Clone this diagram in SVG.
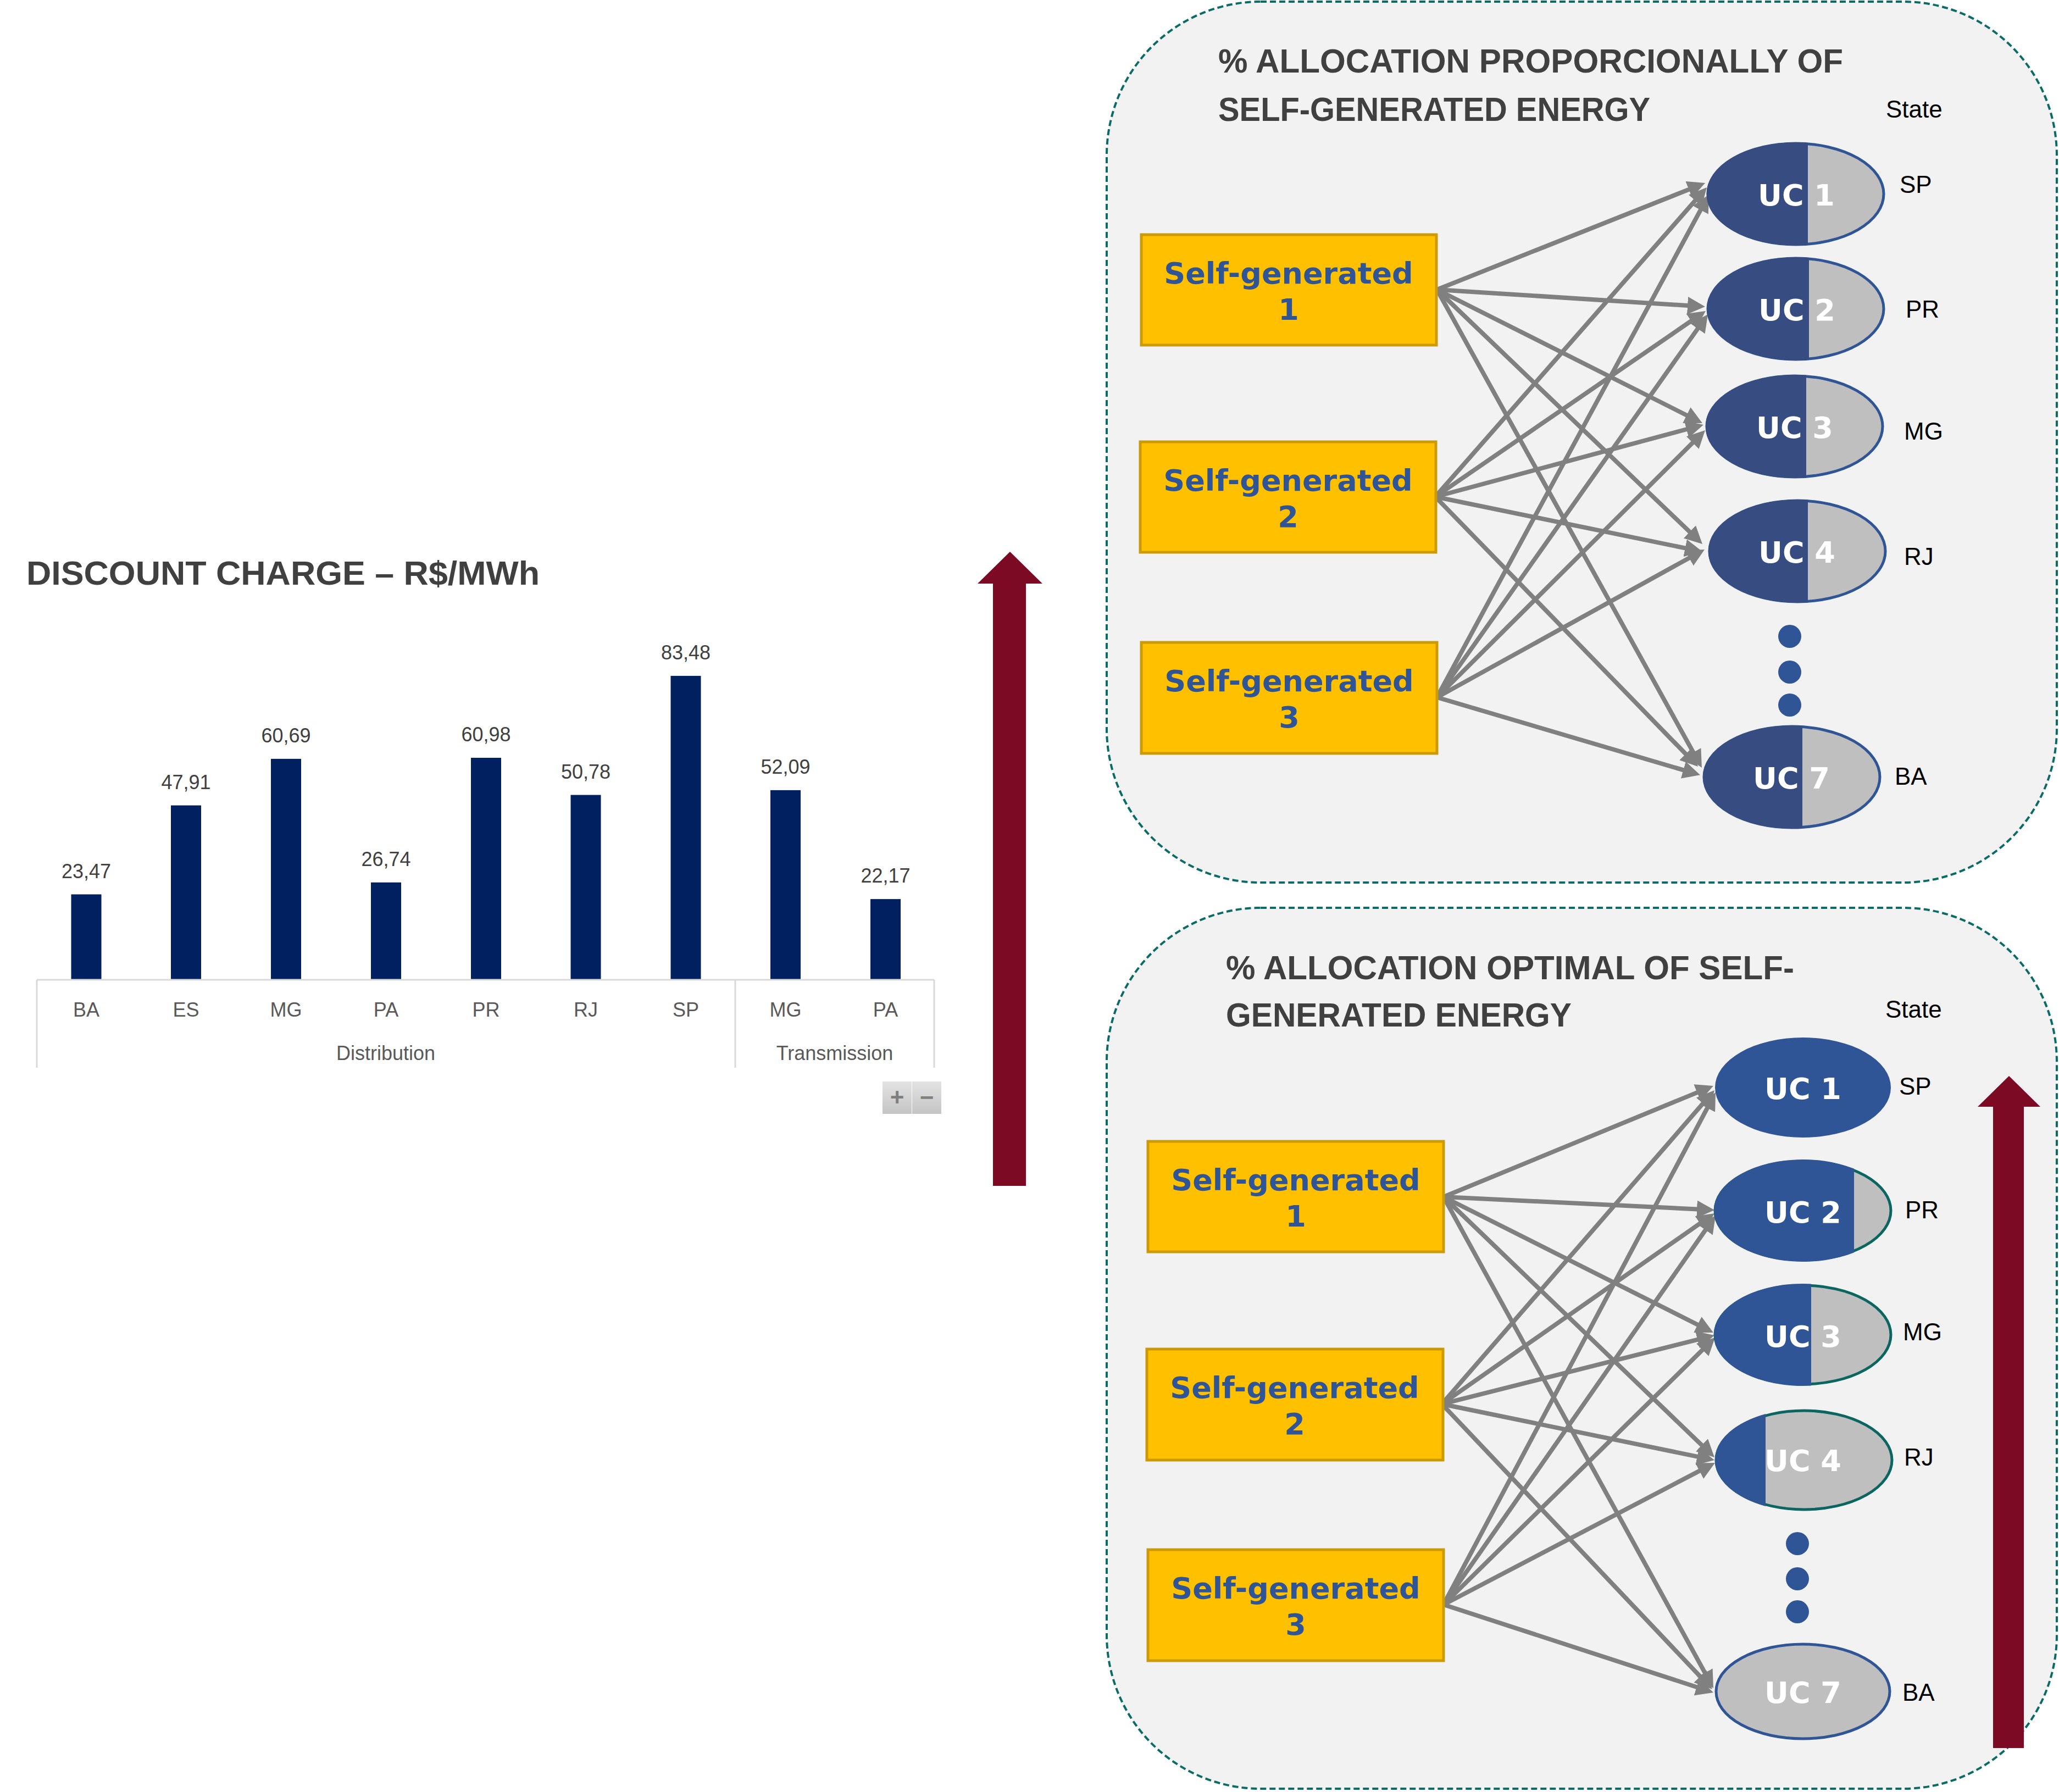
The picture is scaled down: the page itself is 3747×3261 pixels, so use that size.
<svg xmlns="http://www.w3.org/2000/svg" width="3747" height="3261" viewBox="0 0 3747 3261">
<style>
.ttl{font-family:"Liberation Sans",Arial,sans-serif;font-weight:bold;font-size:61px;fill:#404040}
.val{font-family:"Liberation Sans",Arial,sans-serif;font-size:36px;fill:#404040;text-anchor:middle}
.cat{font-family:"Liberation Sans",Arial,sans-serif;font-size:36px;fill:#595959;text-anchor:middle}
.bar{fill:#002060}
.axis{stroke:#d9d9d9;stroke-width:3;fill:none}
.panel{fill:#f2f2f2;stroke:#0b6b66;stroke-width:4;stroke-dasharray:11 6}
.box{fill:#ffc000;stroke:#cc9a06;stroke-width:5}
.boxt{font-family:"DejaVu Sans",Verdana,sans-serif;font-weight:bold;font-size:54px;fill:#2f5597;text-anchor:middle}
.uct{font-family:"DejaVu Sans",Verdana,sans-serif;font-weight:bold;font-size:54px;fill:#ffffff;text-anchor:middle}
.st{font-family:"Liberation Sans",Arial,sans-serif;font-size:44px;fill:#000000}
.dark{fill:#374c80}
.blue{fill:#2f5597}
.grayb{fill:#bfbfbf;stroke:#2f5597;stroke-width:5}
.grayt{fill:#bfbfbf;stroke:#0b6560;stroke-width:5}
.dot{fill:#2f5597}
.red{fill:#7d0a25}
.con line{stroke:#808080;stroke-width:8;marker-end:url(#ah)}
</style>
<defs>
<marker id="ah" viewBox="0 0 10 10" markerWidth="4" markerHeight="4" refX="7" refY="5" orient="auto" markerUnits="strokeWidth">
<path d="M0,0 L10,5 L0,10 z" fill="#808080"/>
</marker>
<linearGradient id="btn" x1="0" y1="0" x2="0" y2="1">
<stop offset="0" stop-color="#e3e3e3"/>
<stop offset="1" stop-color="#c4c4c4"/>
</linearGradient>
</defs>
<rect width="3747" height="3261" fill="#ffffff"/>

<!-- Chart -->
<g id="chart">
<text class="ttl" x="48" y="1064" textLength="934" lengthAdjust="spacingAndGlyphs">DISCOUNT CHARGE – R$/MWh</text>
<rect class="bar" x="129.5" y="1627.5" width="55" height="155.5"/>
<rect class="bar" x="311" y="1465.6" width="55" height="317.4"/>
<rect class="bar" x="493" y="1380.9" width="55" height="402.1"/>
<rect class="bar" x="675" y="1605.8" width="55" height="177.2"/>
<rect class="bar" x="857" y="1379" width="55" height="404"/>
<rect class="bar" x="1038.5" y="1446.6" width="55" height="336.4"/>
<rect class="bar" x="1220.5" y="1229.9" width="55" height="553.1"/>
<rect class="bar" x="1402" y="1437.9" width="55" height="345.1"/>
<rect class="bar" x="1584" y="1636.1" width="55" height="146.9"/>
<text class="val" x="157" y="1598">23,47</text>
<text class="val" x="338.5" y="1436">47,91</text>
<text class="val" x="520.5" y="1351">60,69</text>
<text class="val" x="702.5" y="1576">26,74</text>
<text class="val" x="884.5" y="1349">60,98</text>
<text class="val" x="1066" y="1417">50,78</text>
<text class="val" x="1248" y="1200">83,48</text>
<text class="val" x="1429.5" y="1408">52,09</text>
<text class="val" x="1611.5" y="1606">22,17</text>
<path class="axis" d="M67,1783 H1700 M67,1783 V1943 M1338,1783 V1943 M1700,1783 V1943"/>
<text class="cat" x="157" y="1850">BA</text>
<text class="cat" x="338.5" y="1850">ES</text>
<text class="cat" x="520.5" y="1850">MG</text>
<text class="cat" x="702.5" y="1850">PA</text>
<text class="cat" x="884.5" y="1850">PR</text>
<text class="cat" x="1066" y="1850">RJ</text>
<text class="cat" x="1248" y="1850">SP</text>
<text class="cat" x="1429.5" y="1850">MG</text>
<text class="cat" x="1611.5" y="1850">PA</text>
<text class="cat" x="702" y="1929">Distribution</text>
<text class="cat" x="1519" y="1929">Transmission</text>
<rect x="1606" y="1968" width="53" height="59" fill="url(#btn)"/>
<rect x="1660" y="1968" width="53" height="59" fill="url(#btn)"/>
<text x="1632.5" y="2012" font-family="Liberation Sans,Arial,sans-serif" font-weight="bold" font-size="44" fill="#7f7f7f" text-anchor="middle">+</text>
<text x="1686.5" y="2012" font-family="Liberation Sans,Arial,sans-serif" font-weight="bold" font-size="44" fill="#7f7f7f" text-anchor="middle">−</text>
</g>

<g id="arrow-left">
<path class="red" d="M1838,1004 L1897,1062 L1867,1062 L1867,2158 L1807,2158 L1807,1062 L1779,1062 Z"/>
</g>

<!-- Top panel -->
<g id="panel-top">
<rect class="panel" x="2014" y="3" width="1729" height="1603" rx="280" ry="280"/>
<text class="ttl" x="2217" y="132" textLength="1137" lengthAdjust="spacingAndGlyphs">% ALLOCATION PROPORCIONALLY OF</text>
<text class="ttl" x="2217" y="220" textLength="786" lengthAdjust="spacingAndGlyphs">SELF-GENERATED ENERGY</text>
<text class="st" x="3432" y="214">State</text>
</g>

<g id="connectors-top" class="con">
<line x1="2615" y1="527" x2="3094.1" y2="336.6"/>
<line x1="2615" y1="527" x2="3093.4" y2="557.4"/>
<line x1="2615" y1="527" x2="3089.4" y2="765.7"/>
<line x1="2615" y1="527" x2="3091.1" y2="983.4"/>
<line x1="2615" y1="527" x2="3092.3" y2="1388.6"/>
<line x1="2612" y1="904" x2="3099.7" y2="348.2"/>
<line x1="2612" y1="904" x2="3096.1" y2="571.4"/>
<line x1="2612" y1="904" x2="3090.7" y2="775.5"/>
<line x1="2612" y1="904" x2="3088.6" y2="1001.9"/>
<line x1="2612" y1="904" x2="3083.3" y2="1388.1"/>
<line x1="2615" y1="1269" x2="3105.4" y2="362.4"/>
<line x1="2615" y1="1269" x2="3102.5" y2="579.8"/>
<line x1="2615" y1="1269" x2="3096.2" y2="789.8"/>
<line x1="2615" y1="1269" x2="3093.6" y2="1004.6"/>
<line x1="2615" y1="1269" x2="3084.8" y2="1407.6"/>
</g>

<g id="sg1-top">
<rect class="box" x="2077" y="427" width="537" height="201"/>
<text class="boxt" x="2345" y="516">Self-generated</text>
<text class="boxt" x="2345" y="582">1</text>
</g>
<g id="sg2-top">
<rect class="box" x="2075" y="804" width="538" height="201"/>
<text class="boxt" x="2344" y="893">Self-generated</text>
<text class="boxt" x="2344" y="959">2</text>
</g>
<g id="sg3-top">
<rect class="box" x="2077" y="1169" width="538" height="202"/>
<text class="boxt" x="2346" y="1258">Self-generated</text>
<text class="boxt" x="2346" y="1324">3</text>
</g>

<g id="uc1-top">
<ellipse class="grayb" cx="3268" cy="353" rx="160" ry="92"/>
<path class="dark" d="M3290,259.9 A162,94 0 1 0 3290,446.1 Z"/>
<text class="uct" x="3269" y="374">UC 1</text>
<text class="st" x="3457" y="351">SP</text>
</g>
<g id="uc2-top">
<ellipse class="grayb" cx="3268" cy="562" rx="160" ry="92"/>
<path class="dark" d="M3292,469 A162,94 0 1 0 3292,655 Z"/>
<text class="uct" x="3270" y="583">UC 2</text>
<text class="st" x="3468" y="578">PR</text>
</g>
<g id="uc3-top">
<ellipse class="grayb" cx="3266" cy="776" rx="160" ry="92"/>
<path class="dark" d="M3287,682.8 A162,94 0 1 0 3287,869.2 Z"/>
<text class="uct" x="3266" y="797">UC 3</text>
<text class="st" x="3465" y="800">MG</text>
</g>
<g id="uc4-top">
<ellipse class="grayb" cx="3271" cy="1003" rx="160" ry="92"/>
<path class="dark" d="M3290,909.65 A162,94 0 1 0 3290,1096.35 Z"/>
<text class="uct" x="3270" y="1024">UC 4</text>
<text class="st" x="3465" y="1028">RJ</text>
</g>
<g id="dots-top">
<circle class="dot" cx="3257" cy="1158" r="21"/>
<circle class="dot" cx="3257" cy="1223" r="21"/>
<circle class="dot" cx="3257" cy="1283" r="21"/>
</g>
<g id="uc7-top">
<ellipse class="grayb" cx="3261" cy="1414" rx="160" ry="92"/>
<path class="dark" d="M3280,1320.65 A162,94 0 1 0 3280,1507.35 Z"/>
<text class="uct" x="3260" y="1435">UC 7</text>
<text class="st" x="3448" y="1428">BA</text>
</g>

<!-- Bottom panel -->
<g id="panel-bottom">
<rect class="panel" x="2014" y="1652" width="1729" height="1603" rx="280" ry="280"/>
<text class="ttl" x="2231" y="1782" textLength="1034" lengthAdjust="spacingAndGlyphs">% ALLOCATION OPTIMAL OF SELF-</text>
<text class="ttl" x="2231" y="1868" textLength="629" lengthAdjust="spacingAndGlyphs">GENERATED ENERGY</text>
<text class="st" x="3431" y="1852">State</text>
</g>

<g id="connectors-bottom" class="con">
<line x1="2627" y1="2178" x2="3109.1" y2="1979.6"/>
<line x1="2627" y1="2178" x2="3110.4" y2="2201.5"/>
<line x1="2627" y1="2178" x2="3109.4" y2="2420.7"/>
<line x1="2627" y1="2178" x2="3113.1" y2="2645.3"/>
<line x1="2627" y1="2178" x2="3113.4" y2="3063.6"/>
<line x1="2624" y1="2555" x2="3113.7" y2="1991.2"/>
<line x1="2624" y1="2555" x2="3112.1" y2="2213.5"/>
<line x1="2624" y1="2555" x2="3110.7" y2="2432.3"/>
<line x1="2624" y1="2555" x2="3110.6" y2="2655.1"/>
<line x1="2624" y1="2555" x2="3109.4" y2="3067"/>
<line x1="2627" y1="2920" x2="3117.5" y2="1996.5"/>
<line x1="2627" y1="2920" x2="3116.5" y2="2219.9"/>
<line x1="2627" y1="2920" x2="3114.2" y2="2440.7"/>
<line x1="2627" y1="2920" x2="3112.5" y2="2666.4"/>
<line x1="2627" y1="2920" x2="3108.9" y2="3077"/>
</g>

<g id="sg1-bottom">
<rect class="box" x="2089" y="2077" width="538" height="201"/>
<text class="boxt" x="2358" y="2166">Self-generated</text>
<text class="boxt" x="2358" y="2232">1</text>
</g>
<g id="sg2-bottom">
<rect class="box" x="2087" y="2455" width="539" height="202"/>
<text class="boxt" x="2356" y="2544">Self-generated</text>
<text class="boxt" x="2356" y="2610">2</text>
</g>
<g id="sg3-bottom">
<rect class="box" x="2089" y="2820" width="538" height="202"/>
<text class="boxt" x="2358" y="2909">Self-generated</text>
<text class="boxt" x="2358" y="2975">3</text>
</g>

<g id="uc1-bottom">
<ellipse class="blue" cx="3281" cy="1979" rx="160" ry="91"/>
<text class="uct" x="3281" y="2000">UC 1</text>
<text class="st" x="3456" y="1992">SP</text>
</g>
<g id="uc2-bottom">
<ellipse class="grayt" cx="3281" cy="2203" rx="160" ry="90"/>
<path class="blue" d="M3374,2126.8 A162,93 0 1 0 3374,2279.2 Z"/>
<text class="uct" x="3281" y="2225">UC 2</text>
<text class="st" x="3467" y="2217">PR</text>
</g>
<g id="uc3-bottom">
<ellipse class="grayt" cx="3281" cy="2429" rx="160" ry="90"/>
<path class="blue" d="M3296,2336.4 A162,93 0 1 0 3296,2521.6 Z"/>
<text class="uct" x="3281" y="2451">UC 3</text>
<text class="st" x="3463" y="2439">MG</text>
</g>
<g id="uc4-bottom">
<ellipse class="grayt" cx="3283" cy="2657" rx="160" ry="90" stroke-width="6"/>
<path class="blue" d="M3213,2573.1 A162,93 0 0 0 3213,2740.9 Z"/>
<text class="uct" x="3281" y="2677">UC 4</text>
<text class="st" x="3465" y="2667">RJ</text>
</g>
<g id="dots-bottom">
<circle class="dot" cx="3271" cy="2809" r="21"/>
<circle class="dot" cx="3271" cy="2873" r="21"/>
<circle class="dot" cx="3271" cy="2933" r="21"/>
</g>
<g id="uc7-bottom">
<ellipse class="grayb" cx="3281" cy="3078" rx="158" ry="86" stroke-width="4"/>
<text class="uct" x="3281" y="3099">UC 7</text>
<text class="st" x="3462" y="3095">BA</text>
</g>

<g id="arrow-right">
<path class="red" d="M3656,1958 L3713,2014 L3683,2014 L3683,3181 L3627,3181 L3627,2014 L3599,2014 Z"/>
</g>
</svg>
